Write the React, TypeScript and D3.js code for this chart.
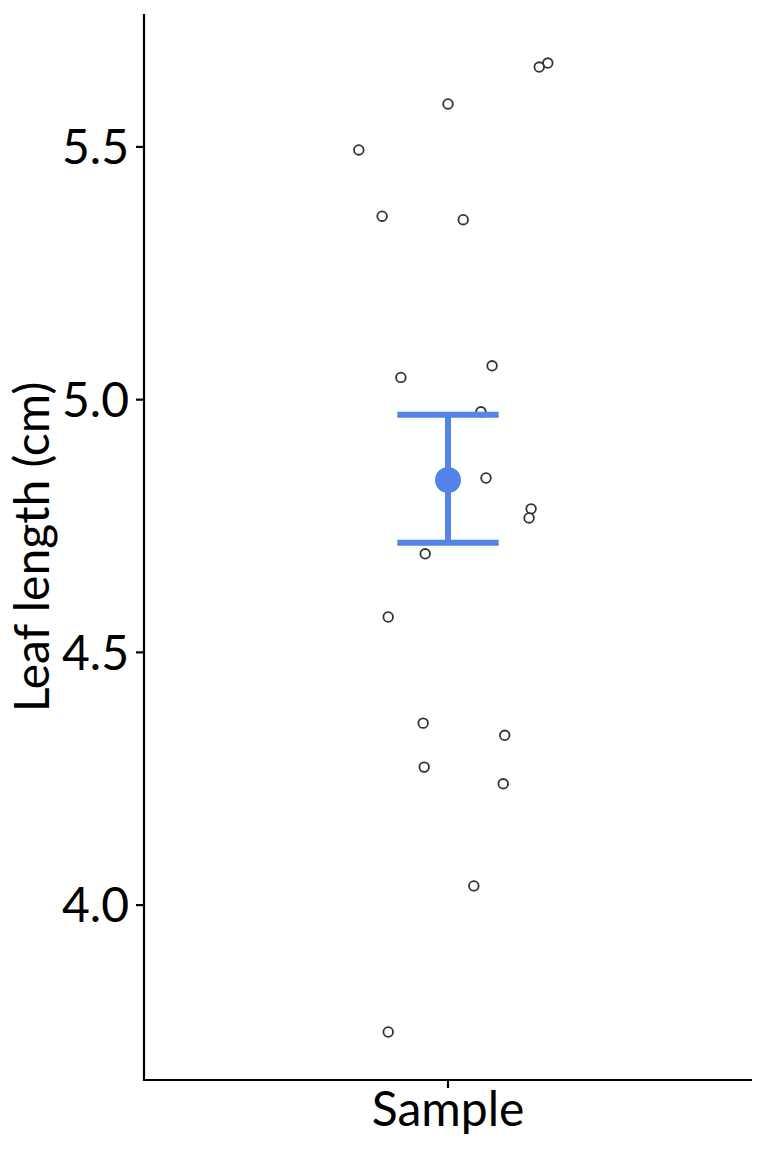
import React from "react";
import * as d3 from "d3";

const category = "Sample";
const leafLength = [5.666, 5.658, 5.585, 5.494, 5.363, 5.356, 5.067, 5.044, 4.976, 4.845, 4.784, 4.766, 4.695, 4.570, 4.360, 4.336, 4.273, 4.240, 4.038, 3.749];
const jitter = [0.197, 0.180, 0.0, -0.176, -0.130, 0.030, 0.087, -0.093, 0.065, 0.075, 0.164, 0.160, -0.045, -0.118, -0.049, 0.112, -0.047, 0.109, 0.051, -0.118];
const meanValue = 4.841;
const errLow = 4.717;
const errHigh = 4.970;
const yTicks = [4.0, 4.5, 5.0, 5.5];

const W = 768, H = 1152;
const left = 144, right = 752, top = 14, bottom = 1080;
const FONT = "Lato, 'Open Sans', sans-serif";
const BLUE = "#5683e7";

export default function App() {
  const y = d3.scaleLinear().domain([3.654, 5.763]).range([bottom, top]);
  const x = d3.scaleLinear().domain([0.4, 1.6]).range([left, right]);
  const cx = x(1);
  const capHalf = x(1.1) - x(1);
  return (
    <svg width={W} height={H} style={{ position: "absolute", left: 0, top: 0 }}>
      <rect width={W} height={H} fill="white" />
      {leafLength.map((v, i) => (
        <circle key={i} cx={x(1 + jitter[i])} cy={y(v)} r={4.8} fill="white" stroke="#333" strokeWidth={1.8} />
      ))}
      <line x1={cx} x2={cx} y1={y(errLow)} y2={y(errHigh)} stroke={BLUE} strokeWidth={6} />
      <line x1={cx - capHalf} x2={cx + capHalf} y1={y(errLow)} y2={y(errLow)} stroke={BLUE} strokeWidth={6} />
      <line x1={cx - capHalf} x2={cx + capHalf} y1={y(errHigh)} y2={y(errHigh)} stroke={BLUE} strokeWidth={6} />
      <circle cx={cx} cy={y(meanValue)} r={13} fill={BLUE} />
      <line x1={left} x2={left} y1={top} y2={bottom + 1} stroke="black" strokeWidth={2.2} />
      <line x1={left - 1} x2={right} y1={bottom} y2={bottom} stroke="black" strokeWidth={2.2} />
      {yTicks.map((t) => (
        <g key={t}>
          <line x1={left - 8} x2={left} y1={y(t)} y2={y(t)} stroke="black" strokeWidth={2.2} />
          <text x={left - 15} y={y(t)} dy="0.36em" textAnchor="end" fontFamily={FONT} fontSize={48} fill="black">
            {t.toFixed(1)}
          </text>
        </g>
      ))}
      <line x1={cx} x2={cx} y1={bottom} y2={bottom + 8} stroke="black" strokeWidth={2.2} />
      <text x={cx} y={1126} textAnchor="middle" fontFamily={FONT} fontSize={48} fill="black">{category}</text>
      <text transform={`translate(49, ${(top + bottom) / 2}) rotate(-90)`} textAnchor="middle" fontFamily={FONT} fontSize={48} fill="black">
        Leaf length (cm)
      </text>
    </svg>
  );
}
